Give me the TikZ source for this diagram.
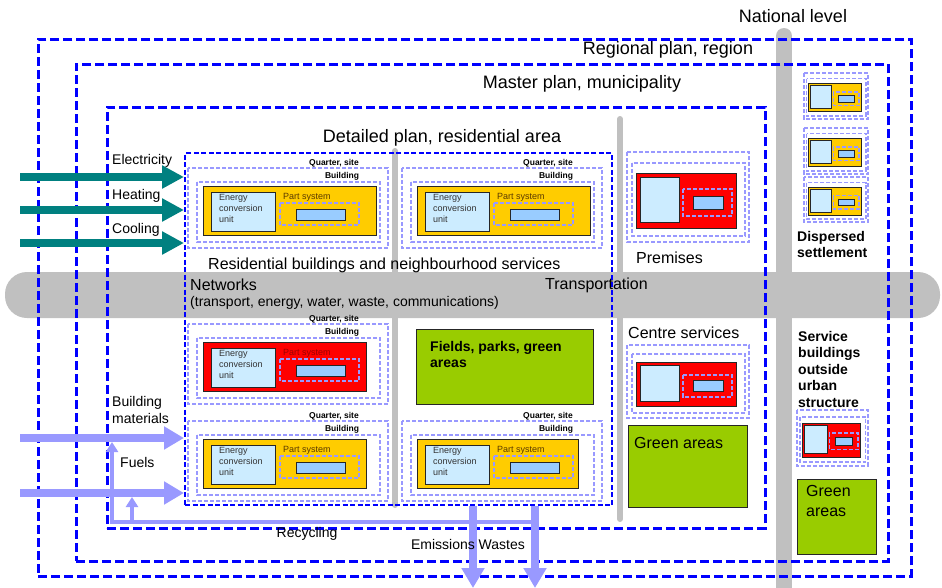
\documentclass[tikz,border=0pt]{standalone}
\usepackage{fontspec}
\setmainfont{Liberation Sans}
\usepackage{tikz}
\usetikzlibrary{arrows.meta}
\usetikzlibrary{positioning}

\definecolor{planblue}{HTML}{0000FF}
\definecolor{lavender}{HTML}{9999FF}
\definecolor{roadgrey}{HTML}{C0C0C0}
\definecolor{energyteal}{HTML}{008080}
\definecolor{sunyellow}{HTML}{FFCC00}
\definecolor{firered}{HTML}{FF0000}
\definecolor{ecublue}{HTML}{CCECFF}
\definecolor{partblue}{HTML}{99CCFF}
\definecolor{grassgreen}{HTML}{99CC00}
\definecolor{psbrown}{HTML}{5A3A00}
\definecolor{psred}{HTML}{9A0000}

\begin{document}
\begin{tikzpicture}[x=1pt,y=-1pt,
  plan/.style={draw=planblue, line width=2.5pt, dash pattern=on 9pt off 4pt, minimum width=#1, anchor=north west, inner sep=0pt},
  detail/.style={draw=planblue, line width=2pt, dash pattern=on 5pt off 2.5pt, anchor=north west, inner sep=0pt},
  lav/.style={draw=lavender, line width=1.6pt, dash pattern=on 4pt off 2pt},
  unit/.style={draw=black!85, line width=0.8pt},
  field/.style={draw=black!85, line width=0.8pt, fill=grassgreen, anchor=north west, inner sep=0pt},
  road/.style={draw=roadgrey, line cap=round},
  energyin/.style={draw=energyteal, line width=8pt, -{Triangle[length=22pt,width=22pt]}},
  flow/.style={draw=lavender, line width=8pt, -{Triangle[length=20pt,width=22pt]}},
  recline/.style={draw=lavender, line width=4pt, -{Triangle[length=10pt,width=12pt]}, shorten >=4pt},
  biglab/.style={font=\fontsize{18}{21}\selectfont, inner sep=0pt},
  midlab/.style={font=\fontsize{16}{20}\selectfont, inner sep=0pt, align=left},
  lab/.style={font=\fontsize{14}{17}\selectfont, inner sep=0pt, align=left},
  boldlab/.style={font=\bfseries\fontsize{14}{16.5}\selectfont, inner sep=0pt, align=left},
  tag/.style={font=\bfseries\fontsize{8.5}{10}\selectfont, inner sep=0pt},
  small/.style={font=\fontsize{9}{11}\selectfont, inner sep=0pt, align=left}]

\useasboundingbox (0,0) rectangle (942,587);
\fill[white] (0,0) rectangle (942,587);

% roads
\fill[roadgrey, rounded corners=22pt] (5,272) rectangle (940,318);
\draw[road, line width=16pt] (784,36) -- (784,600);
\draw[road, line width=6pt] (620,119) -- (620,519);
\draw[road, line width=6pt] (395,151) -- (395,505);

% planning levels
\node (region) [plan=873pt, minimum height=537pt] at (37,38) {};
\node (master) [plan=812pt, minimum height=497pt] at (75,63) {};
\node (municipal) [plan=658pt, minimum height=421pt] at (106,106) {};
\node (dpl) [detail, minimum width=427pt, minimum height=352pt] at (184,152) {};

% quarters with buildings
\foreach \n/\x/\y/\c/\w/\t in {a/188/168/sunyellow/188/psbrown, b/402/168/sunyellow/188/psbrown,
  c/188/324/firered/178/psred, d/188/421/sunyellow/178/psbrown, e/402/421/sunyellow/176/psbrown}{
  \begin{scope}[shift={(\x,\y)}]
    \draw[lav] (0,0) rectangle (200,80);
    \draw[lav] (9,14) rectangle (192,74);
    \draw[unit, fill=\c] (15,18) rectangle (\w,67);
    \draw[unit, fill=ecublue] (23,24) rectangle (87,63);
    \draw[lav] (92,35) rectangle (171,57);
    \draw[unit, fill=partblue] (108,41) rectangle (157,52);
    \node (quarter\n) [tag] at (146,-5) {Quarter, site};
    \node (building\n) [tag] at (154,8) {Building};
    \node (ecu\n) [small, text=black!80, anchor=north west] at (31,26) {Energy\\conversion\\unit};
    \node (part\n) [small, text=\t, anchor=west] at (95,29) {Part system};
  \end{scope}
}

% premises, centre services, outside and dispersed buildings
\foreach \x/\y/\sx/\sy/\c in {627/152/1/1/firered, 627/345/1/0.81/firered, 797/410/0.58/0.62/firered,
  804/73/0.525/0.51/sunyellow, 804/128/0.525/0.51/sunyellow, 804/177/0.525/0.5/sunyellow}{
  \begin{scope}[shift={(\x,\y)}, xscale=\sx, yscale=\sy]
    \draw[lav] (0,0) rectangle (122,90);
    \draw[lav] (5,11) rectangle (118,84);
    \draw[unit, fill=\c] (9,21) rectangle (109,76);
    \draw[unit, fill=ecublue] (13,25) rectangle (52,70);
    \draw[lav] (56,37) rectangle (105,64);
    \draw[unit, fill=partblue] (66,44) rectangle (96,57);
  \end{scope}
}

% green areas
\node (fields) [field, minimum width=177pt, minimum height=75pt] at (416,329) {};
\node (centregreen) [field, minimum width=119pt, minimum height=82pt] at (628,425) {};
\node (outgreen) [field, minimum width=79pt, minimum height=75pt] at (797,479) {};

% level labels
\node (national) [biglab] at (793,16) {National level};
\node (regionlab) [biglab] at (668,50) {Regional plan, region};
\node (masterlab) [biglab] at (582,84) {Master plan, municipality};
\node (detaillab) [biglab] at (442,138) {Detailed plan, residential area};

% area labels
\node (residential) [midlab, anchor=west] at (208,265) {Residential buildings and neighbourhood services};
\node (networks) [midlab, anchor=west] at (190,285) {Networks};
\node (netlist) [lab, anchor=west] at (190,303) {(transport, energy, water, waste, communications)};
\node (transport) [midlab, anchor=west] at (545,285) {Transportation};
\node (premises) [midlab, anchor=west] at (636,258) {Premises};
\node (centre) [midlab, anchor=west] at (628,333) {Centre services};
\node (centregreenlab) [midlab, anchor=west] at (634,443) {Green areas};
\node (outgreenlab) [midlab, anchor=north west] at (806,485) {Green\\areas};
\node (fieldslab) [boldlab, anchor=north west] at (430,341) {Fields, parks, green\\areas};
\node (dispersed) [boldlab, anchor=north west] at (797,231) {Dispersed\\settlement};
\node (outside) [boldlab, anchor=north west] at (798,331) {Service\\buildings\\outside\\urban\\structure};

% inputs
\node (elec) [lab, anchor=west] at (112,161) {Electricity};
\node (heat) [lab, anchor=west] at (112,196) {Heating};
\node (cool) [lab, anchor=west] at (112,230) {Cooling};
\node (materials) [lab, anchor=west] at (112,410) {Building\\materials};
\node (fuels) [lab, anchor=west] at (120,462) {Fuels};
\coordinate (elecin) at (20,177);
\coordinate (heatin) at (20,210);
\coordinate (coolin) at (20,243);
\coordinate (matin) at (20,438);
\coordinate (fuelin) at (20,493);
\draw[energyin] (elecin) -- (elecin -| dpl.west);
\draw[energyin] (heatin) -- (heatin -| dpl.west);
\draw[energyin] (coolin) -- (coolin -| dpl.west);
\draw[flow] (matin) -- (matin -| dpl.west);
\draw[flow] (fuelin) -- (fuelin -| dpl.west);

% outputs and recycling
\coordinate (emisout) at (473,588);
\coordinate (wasteout) at (535,588);
\coordinate (recbend) at (112,522);
\coordinate (recfork) at (132,522);
\draw[recline] (wasteout |- recbend) -- (recbend) -- (recbend |- matin);
\draw[recline] (recfork) -- (recfork |- fuelin);
\draw[flow] (emisout |- dpl.south) -- (emisout);
\draw[flow] (wasteout |- dpl.south) -- (wasteout);
\node (recycling) [lab] at (307,534) {Recycling};
\node (emissions) [lab] at (468,544) {Emissions Wastes};

\end{tikzpicture}
\end{document}
